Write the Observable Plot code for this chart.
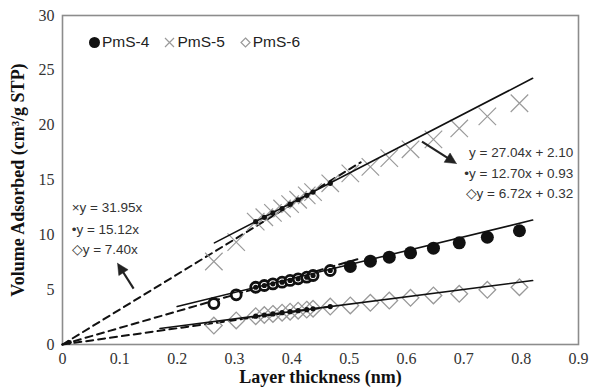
<!DOCTYPE html>
<html>
<head>
<meta charset="utf-8">
<script src="https://cdn.jsdelivr.net/npm/d3@7"></script>
<script src="https://cdn.jsdelivr.net/npm/@observablehq/plot@0.6"></script>
<style>
  body { margin: 0; background: #fff; }
  #wrap { position: relative; width: 589px; height: 390px; }
  #legend { position: absolute; left: 88px; top: 33px; display: flex; gap: 14px;
            font: 15.5px "Liberation Sans", Arial, sans-serif; color: #222; }
  #legend span { display: flex; align-items: center; gap: 1px; }
</style>
</head>
<body>
<div id="wrap"><div id="legend"></div></div>
<script>
// Layer thickness (nm) for every measured point
const thickness = [0.264, 0.303, 0.337, 0.352, 0.367, 0.383, 0.397, 0.411, 0.426, 0.437, 0.467,
                   0.502, 0.537, 0.570, 0.607, 0.647, 0.692, 0.741, 0.797];
// Volume adsorbed (cm3/g STP) per sample
const pms4 = [3.74, 4.53, 5.22, 5.38, 5.53, 5.68, 5.84, 5.99, 6.14, 6.29, 6.75,
              7.11, 7.60, 7.96, 8.36, 8.78, 9.27, 9.78, 10.37];
const pms5 = [7.57, 9.33, 11.2, 11.6, 12.0, 12.4, 12.8, 13.2, 13.6, 13.9, 14.7,
              15.6, 16.2, 17.0, 17.8, 18.7, 19.7, 20.8, 22.0];
const pms6 = [1.73, 2.19, 2.58, 2.69, 2.79, 2.90, 2.99, 3.08, 3.18, 3.26, 3.46,
              3.56, 3.80, 4.01, 4.26, 4.47, 4.62, 4.99, 5.22];
const series = ["PmS-4", "PmS-5", "PmS-6"];
const lowRange = [2, 11];          // low-thickness points also used for the through-origin fits

// Linear fits with intercept (solid) and through the origin (dashed)
const fitSlope = [12.70, 27.04, 6.72];
const fitIntercept = [0.93, 2.10, 0.32];
const fitFrom = [0.20, 0.265, 0.17];
const fitTo = 0.82;
const originSlope = [15.12, 31.95, 7.40];
const originTo = [0.52, 0.52, 0.47];

const leftEq = ["×y = 31.95x", "•y = 15.12x", "◇y = 7.40x"];
const leftEqY = [12.5, 10.5, 8.66];
const rightEq = ["y = 27.04x + 2.10", "•y = 12.70x + 0.93", "◇y = 6.72x + 0.32"];
const rightEqY = [17.5, 15.6, 13.77];
const arrows = [
  {x1: 0.124, y1: 5.1, x2: 0.096, y2: 7.4},
  {x1: 0.627, y1: 18.5, x2: 0.687, y2: 16.5}
];

const xTicks = [0, 0.1, 0.2, 0.3, 0.4, 0.5, 0.6, 0.7, 0.8, 0.9];
const yTicks = [0, 5, 10, 15, 20, 25, 30];

const values = [pms4, pms5, pms6];
const points = thickness.flatMap((x, i) => values.map((v, s) => ({x, y: v[i], series: series[s], i})));
const smallDots = points.filter(d => d.i >= lowRange[0] && d.i < lowRange[1]);
const fitRows = series.flatMap((s, k) => [fitFrom[k], fitTo].map(x => ({x, y: fitSlope[k] * x + fitIntercept[k], s})));
const originRows = series.flatMap((s, k) => [0, originTo[k]].map(x => ({x, y: originSlope[k] * x, s})));

const sans = "Liberation Sans, Arial, sans-serif";

function build(heads) {
  return Plot.plot({
    width: 589,
    height: 390,
    marginLeft: 62,
    marginRight: 11,
    marginTop: 15,
    marginBottom: 46,
    style: {fontFamily: "Liberation Serif, Times New Roman, serif", fontSize: "16px", color: "#333", background: "#fff"},
    x: {domain: [0, 0.9], ticks: xTicks, tickSize: 0, tickPadding: 8, tickFormat: d => d === 0 ? "0" : d.toFixed(1), label: null},
    y: {domain: [0, 30], ticks: yTicks, tickSize: 0, tickPadding: 8, label: null},
    marks: [
      Plot.frame({stroke: "#8c8c8c", strokeWidth: 1.6}),
      // dashed fits through the origin
      Plot.line(originRows, {x: "x", y: "y", z: "s", stroke: "#111", strokeWidth: 2, strokeDasharray: "7,5"}),
      // PmS-6 open diamonds
      Plot.dot(points.filter(d => d.series === "PmS-6"), {x: "x", y: "y", symbol: "diamond2", r: 7.5, stroke: "#999", strokeWidth: 1.3, fill: "none"}),
      // PmS-5 crosses
      Plot.dot(points.filter(d => d.series === "PmS-5"), {x: "x", y: "y", symbol: "times", r: 8, stroke: "#9a9a9a", strokeWidth: 1.2}),
      // PmS-4 rings at low thickness, filled discs above
      Plot.dot(points.filter(d => d.series === "PmS-4" && d.i < lowRange[1]), {x: "x", y: "y", r: 5, stroke: "#111", strokeWidth: 2.8, fill: "#fff"}),
      Plot.dot(points.filter(d => d.series === "PmS-4" && d.i >= lowRange[1]), {x: "x", y: "y", r: 6.5, fill: "#111"}),
      // solid fits with intercept
      Plot.line(fitRows, {x: "x", y: "y", z: "s", stroke: "#111", strokeWidth: 1.6}),
      // small black points used in the origin fits
      Plot.dot(smallDots, {x: "x", y: "y", r: 2.6, fill: "#111"}),
      Plot.dot([{x: 0.012, y: 0.2}], {x: "x", y: "y", r: 2.4, fill: "#111"}),
      // equations and arrows
      Plot.text(leftEq, {x: () => 0.016, y: (d, i) => leftEqY[i], text: d => d, textAnchor: "start", fontFamily: sans, fontSize: 13.5, fill: "#333"}),
      Plot.text(rightEq, {x: () => 0.891, y: (d, i) => rightEqY[i], text: d => d, textAnchor: "end", fontFamily: sans, fontSize: 13.5, fill: "#333"}),
      Plot.link(heads ? heads.shafts : arrows, {x1: "x1", y1: "y1", x2: "x2", y2: "y2", stroke: "#222", strokeWidth: 2.2}),
      heads ? Plot.line(heads.tris, {x: "x", y: "y", z: "k", fill: "#222", stroke: "#222", strokeWidth: 0.5}) : null,
      // axis titles
      Plot.text(["Layer thickness (nm)"], {frameAnchor: "bottom", dy: 38, fontWeight: "bold", fontSize: 18, fill: "#111"}),
      Plot.text(["Volume Adsorbed (cm³/g STP)"], {frameAnchor: "left", textAnchor: "middle", dx: -44, rotate: -90, fontWeight: "bold", fontSize: 18, fill: "#111"})
    ]
  });
}

// first pass gives the scales, used to shape filled arrowheads in screen space
const probe = build(null);
const sx = probe.scale("x"), sy = probe.scale("y");
const headLen = 11, headHalf = 5.5;
const tris = [], shafts = [];
arrows.forEach((a, k) => {
  const px1 = sx.apply(a.x1), py1 = sy.apply(a.y1), px2 = sx.apply(a.x2), py2 = sy.apply(a.y2);
  const len = Math.hypot(px2 - px1, py2 - py1);
  const ux = (px2 - px1) / len, uy = (py2 - py1) / len;
  const bx = px2 - ux * headLen, by = py2 - uy * headLen;
  const pts = [[px2, py2], [bx - uy * headHalf, by + ux * headHalf], [bx + uy * headHalf, by - ux * headHalf], [px2, py2]];
  pts.forEach(([px, py]) => tris.push({x: sx.invert(px), y: sy.invert(py), k}));
  shafts.push({x1: a.x1, y1: a.y1, x2: sx.invert(bx + ux), y2: sy.invert(by + uy)});
});
const chart = build({tris, shafts});
document.getElementById("wrap").prepend(chart);

// legend built from the series names
const legendSymbols = [
  '<svg width="13" height="13"><circle cx="6.5" cy="6.5" r="5.5" fill="#111"/></svg>',
  '<svg width="13" height="13"><path d="M2,2L11,11M11,2L2,11" stroke="#9a9a9a" stroke-width="1.2"/></svg>',
  '<svg width="13" height="13"><path d="M6.5,2L11,6.5L6.5,11L2,6.5Z" stroke="#999" stroke-width="1.2" fill="none"/></svg>'
];
const legend = document.getElementById("legend");
series.forEach((s, k) => {
  const span = document.createElement("span");
  span.innerHTML = legendSymbols[k] + "<span>" + s + "</span>";
  legend.appendChild(span);
});
</script>
</body>
</html>
